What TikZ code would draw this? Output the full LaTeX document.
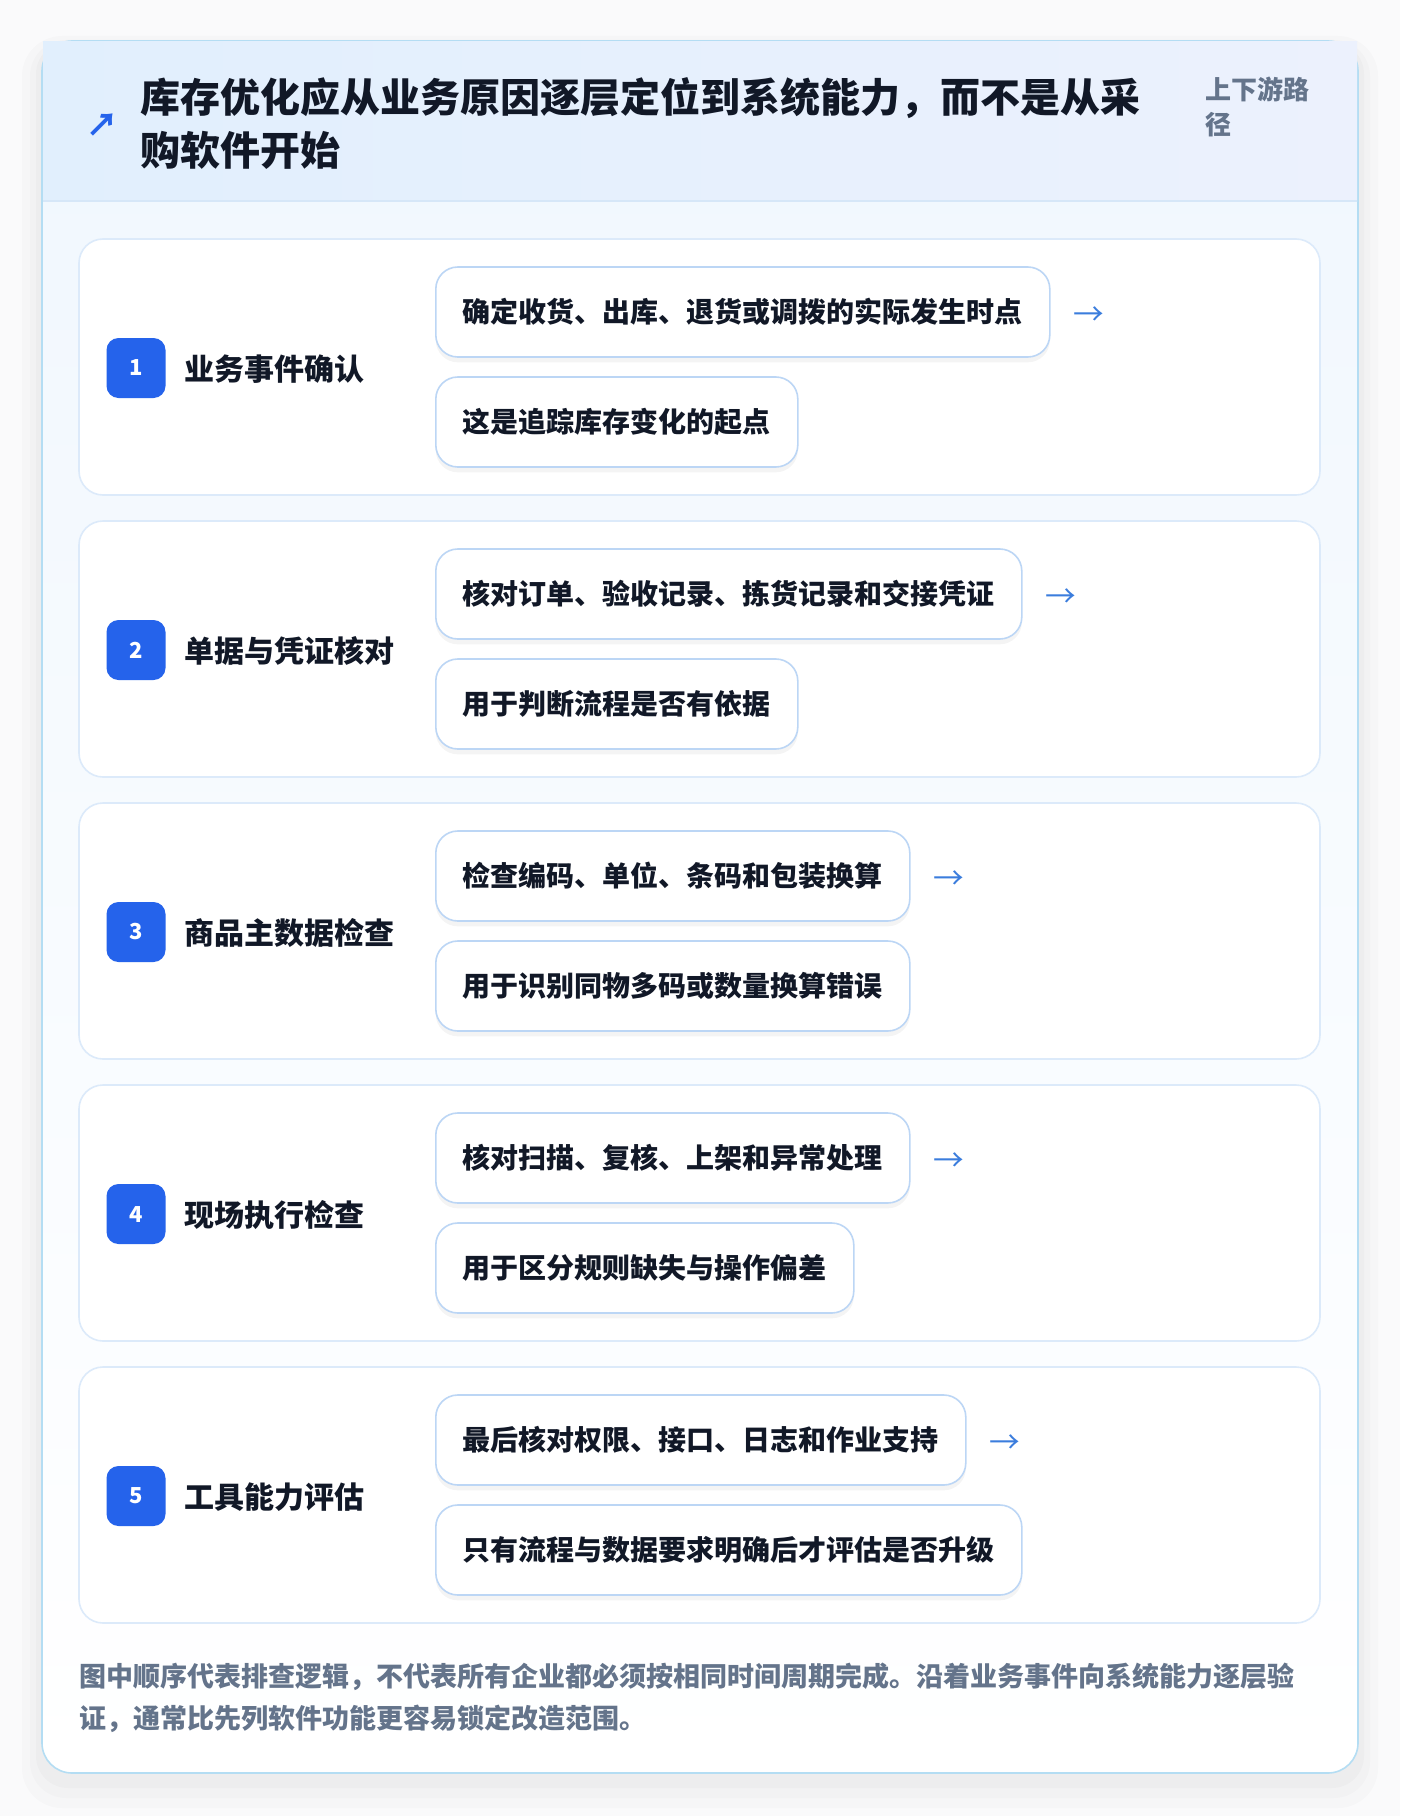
\documentclass[tikz,border=0pt]{standalone}
\usepackage{fontspec}
\setmainfont{Noto Sans CJK SC}
\usetikzlibrary{positioning,shadows}

\definecolor{pagebg}{HTML}{FAFAFB}
\definecolor{cardline}{HTML}{B4DDF3}
\definecolor{bodytop}{HTML}{F0F7FE}
\definecolor{headl}{HTML}{E1EFFD}
\definecolor{headr}{HTML}{ECF1FD}
\definecolor{headline}{HTML}{D6E7F8}
\definecolor{rowline}{HTML}{DCEAFA}
\definecolor{boxline}{HTML}{BCD6F5}
\definecolor{badgeblue}{HTML}{2563EB}
\definecolor{arrowblue}{HTML}{3B7DDD}
\definecolor{ink}{HTML}{111827}
\definecolor{muted}{HTML}{64748B}

\begin{document}
\begin{tikzpicture}[x=0.75pt,y=-0.75pt,
  rowcard/.style={draw=rowline,line width=1.2pt,fill=white,rounded corners=18pt,minimum width=930.75pt,minimum height=192pt,inner sep=0pt},
  badge/.style={fill=badgeblue,rounded corners=9pt,minimum width=44.25pt,minimum height=45pt,inner sep=0pt,text=white,font=\bfseries\fontsize{16.5pt}{18pt}\selectfont},
  steplabel/.style={anchor=west,inner sep=0pt,text=ink,font=\bfseries\fontsize{22.5pt}{26pt}\selectfont},
  detail/.style={anchor=west,draw=boxline,line width=1.2pt,fill=white,rounded corners=16.5pt,minimum height=67.5pt,inner xsep=20.25pt,inner ysep=0pt,text=ink,font=\bfseries\fontsize{21pt}{24pt}\selectfont,
    drop shadow={shadow xshift=0pt,shadow yshift=-4pt,opacity=0.045,fill=black}},
  nextarrow/.style={inner sep=0pt,text=arrowblue,font=\fontsize{23pt}{24pt}\selectfont}
]
\useasboundingbox (0,0) rectangle (1400,1816);
\fill[pagebg] (0,0) rectangle (1400,1816);

% soft shadow under the card
\fill[black,opacity=0.015,rounded corners=30pt] (22,36) rectangle (1378,1808);
\fill[black,opacity=0.015,rounded corners=27pt] (30,40) rectangle (1370,1798);
\fill[black,opacity=0.02,rounded corners=24pt] (36,42) rectangle (1364,1788);

% outer card and header
\draw[draw=cardline,line width=1.2pt,rounded corners=22.5pt,top color=bodytop,bottom color=white] (42,41) rectangle (1358,1773);
\fill[left color=headl,right color=headr] (43,42) rectangle (1357,201);
\draw[headline,line width=1.5pt] (43,201) -- (1357,201);

\node[inner sep=0pt,text=badgeblue,font=\bfseries\fontsize{24pt}{26pt}\selectfont] (icon) at (102,125) {↗};
\node[anchor=north west,inner sep=0pt,align=left,text=ink,font=\bfseries\fontsize{30pt}{39.75pt}\selectfont] (title) at (140,77)
  {库存优化应从业务原因逐层定位到系统能力，而不是从采\\购软件开始};
\node[anchor=north west,inner sep=0pt,align=left,text=muted,font=\bfseries\fontsize{19.5pt}{26.25pt}\selectfont] (tag) at (1205,77)
  {上下游路\\径};

% step 1
\node[rowcard] (row1) at (699.5,367) {};
\node[badge] (b1) at (136,368) {1};
\node[steplabel] (l1) at (184,369) {业务事件确认};
\node[detail] (d1a) at (435,312) {确定收货、出库、退货或调拨的实际发生时点};
\node[detail] (d1b) at (435,422) {这是追踪库存变化的起点};
\node[nextarrow,right=17pt of d1a,yshift=-3pt] (a1) {→};

% step 2
\node[rowcard] (row2) at (699.5,649) {};
\node[badge] (b2) at (136,650) {2};
\node[steplabel] (l2) at (184,651) {单据与凭证核对};
\node[detail] (d2a) at (435,594) {核对订单、验收记录、拣货记录和交接凭证};
\node[detail] (d2b) at (435,704) {用于判断流程是否有依据};
\node[nextarrow,right=17pt of d2a,yshift=-3pt] (a2) {→};

% step 3
\node[rowcard] (row3) at (699.5,931) {};
\node[badge] (b3) at (136,932) {3};
\node[steplabel] (l3) at (184,933) {商品主数据检查};
\node[detail] (d3a) at (435,876) {检查编码、单位、条码和包装换算};
\node[detail] (d3b) at (435,986) {用于识别同物多码或数量换算错误};
\node[nextarrow,right=17pt of d3a,yshift=-3pt] (a3) {→};

% step 4
\node[rowcard] (row4) at (699.5,1213) {};
\node[badge] (b4) at (136,1214) {4};
\node[steplabel] (l4) at (184,1215) {现场执行检查};
\node[detail] (d4a) at (435,1158) {核对扫描、复核、上架和异常处理};
\node[detail] (d4b) at (435,1268) {用于区分规则缺失与操作偏差};
\node[nextarrow,right=17pt of d4a,yshift=-3pt] (a4) {→};

% step 5
\node[rowcard] (row5) at (699.5,1495) {};
\node[badge] (b5) at (136,1496) {5};
\node[steplabel] (l5) at (184,1497) {工具能力评估};
\node[detail] (d5a) at (435,1440) {最后核对权限、接口、日志和作业支持};
\node[detail] (d5b) at (435,1550) {只有流程与数据要求明确后才评估是否升级};
\node[nextarrow,right=17pt of d5a,yshift=-3pt] (a5) {→};

% footnote
\node[anchor=north west,inner sep=0pt,align=left,text=muted,font=\bfseries\fontsize{20.25pt}{31.5pt}\selectfont] (note) at (79,1663)
  {图中顺序代表排查逻辑，不代表所有企业都必须按相同时间周期完成。沿着业务事件向系统能力逐层验\\证，通常比先列软件功能更容易锁定改造范围。};
\end{tikzpicture}
\end{document}
